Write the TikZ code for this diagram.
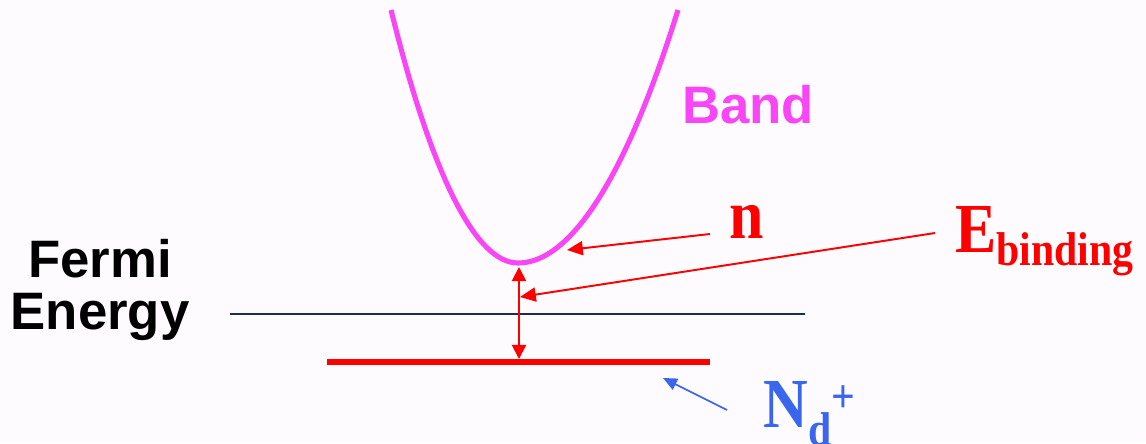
\documentclass[tikz,border=0pt]{standalone}
\usepackage{fontspec}
\setmainfont{Liberation Serif}
\setsansfont{Liberation Sans}
\newfontfamily\labelserif[FakeStretch=0.88]{Liberation Serif Bold}
\usetikzlibrary{arrows.meta,positioning}
\definecolor{bandpink}{HTML}{F845F6}
\definecolor{fermiblue}{HTML}{1B2B5B}
\definecolor{donorblue}{HTML}{3A66EE}
\definecolor{paper}{HTML}{FDFBFE}

\begin{document}
\begin{tikzpicture}[x=0.02cm,y=-0.02cm]
  \tikzstyle{sanslbl}=[inner sep=0pt,font=\sffamily\bfseries\fontsize{30}{30}\selectfont]
  \tikzstyle{seriflbl}=[inner sep=0pt,font=\labelserif\fontsize{40}{40}\selectfont]
  \tikzstyle{redarr}=[-{Triangle[length=9pt,width=8pt]},line width=1.1pt,red]
  \fill[paper] (0,0) rectangle (1146,443);
  \useasboundingbox (0,0) rectangle (1146,443);
  % band edge, Fermi level and donor level
  \draw[bandpink,line width=2.9pt] (391,10) parabola bend (518,263) (678,10);
  \draw[fermiblue,line width=1.2pt] (230,314) -- (805,314);
  \draw[red,line width=3.4pt] (327,362) -- (710,362);
  \coordinate (bottom) at (519,267);
  \coordinate (donor) at (519,359);
  % labels
  \node[sanslbl,bandpink,anchor=base west] (band) at (682,123) {Band};
  \node[sanslbl,align=center,text=black] (fermi) at (100,290) {Fermi\\Energy};
  \node[seriflbl,red,anchor=base west] (nlbl) at (729,238) {n};
  \node[seriflbl,red,anchor=base west] (ebind) at (955,252)
    {E\raisebox{-0.26cm}{\fontsize{27}{27}\selectfont binding}};
  \node[seriflbl,donorblue,anchor=base west] (ndplus) at (763,427)
    {N\raisebox{-0.36cm}{\fontsize{27}{27}\selectfont d}\raisebox{0.3cm}{\fontsize{27}{27}\selectfont +}};
  % pointers
  \coordinate (ntail) at (710,234);
  \coordinate (ntip) at (567,250);
  \coordinate (etail) at (935,233);
  \coordinate (etip) at (520,297);
  \coordinate (dtail) at (727,410);
  \coordinate (dtip) at (663,378);
  \draw[redarr] (ntail) -- (ntip);
  \draw[redarr] (etail) -- (etip);
  \draw[{Triangle[length=8pt,width=8pt]}-{Triangle[length=8pt,width=8pt]},line width=1.1pt,red] (bottom) -- (donor);
  \draw[-{Triangle[length=8pt,width=7pt]},line width=0.9pt,donorblue] (dtail) -- (dtip);
\end{tikzpicture}
\end{document}
